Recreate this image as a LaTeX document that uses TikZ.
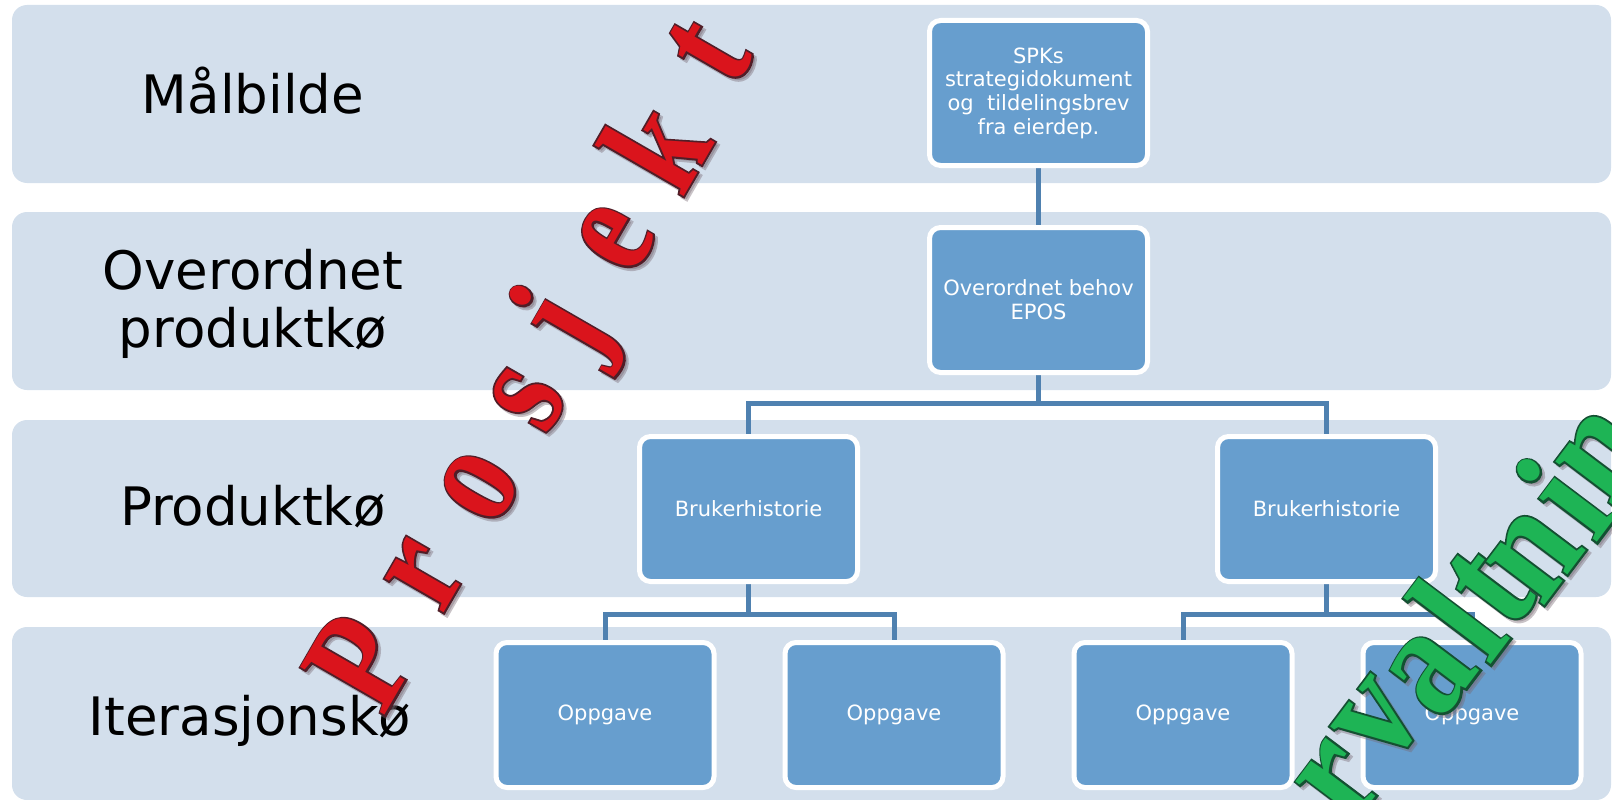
\documentclass[tikz,border=0pt]{standalone}
\usepackage{fontspec}
\setmainfont{DejaVu Sans}
\newfontfamily\wafont{Liberation Serif}[BoldFeatures={FakeStretch=0.8}]
\newfontfamily\waedgefont{Liberation Serif}[BoldFeatures={FakeStretch=0.8,FakeBold=2.5}]
\newfontfamily\wafontwide{Liberation Serif}[BoldFeatures={FakeStretch=0.85}]
\newfontfamily\waedgefontwide{Liberation Serif}[BoldFeatures={FakeStretch=0.85,FakeBold=2.5}]
\usetikzlibrary{calc}

\definecolor{bandfill}{RGB}{211,223,236}
\definecolor{boxfill}{RGB}{103,158,206}
\definecolor{linkcol}{RGB}{79,129,176}
\definecolor{waRed}{RGB}{218,20,28}
\definecolor{waRedEdge}{RGB}{80,30,40}
\definecolor{waGreen}{RGB}{30,180,85}
\definecolor{waGreenEdge}{RGB}{20,80,50}
\definecolor{waShadow}{RGB}{120,105,115}

\pgfdeclarelayer{back}
\pgfdeclarelayer{mid}
\pgfdeclarelayer{front}
\pgfsetlayers{back,mid,main,front}

\tikzset{
  band/.style={fill=bandfill, rounded corners=15pt},
  rowlabel/.style={font=\fontsize{53}{58}\selectfont, align=center, text=black, inner sep=0pt},
  chartbox/.style={draw=white, line width=5pt, fill=boxfill, rounded corners=11pt,
    minimum width=218pt, minimum height=145pt, text=white, align=center,
    font=\fontsize{21}{23.7}\selectfont, inner sep=0pt},
  link/.style={draw=linkcol, line width=5pt},
  waglyph/.style={inner sep=0pt},
}

% one WordArt letter: name, x, y, angle, fill colour, edge colour, letter, size, family suffix
\newcommand\wordartglyph[9]{%
  \node[waglyph, text=waShadow, opacity=.4, rotate=#4] (#1-shadow) at ($(#2,#3)+(3,3)$)
    {\csname waedgefont#9\endcsname\fontsize{#8}{#8}\selectfont\bfseries #7};
  \node[waglyph, text=#6, rotate=#4] (#1-edge) at (#2,#3)
    {\csname waedgefont#9\endcsname\fontsize{#8}{#8}\selectfont\bfseries #7};
  \node[waglyph, text=#5, rotate=#4] (#1) at (#2,#3)
    {\csname wafont#9\endcsname\fontsize{#8}{#8}\selectfont\bfseries #7};
}
\newcommand\redglyph[4]{\wordartglyph{#1}{#2}{#3}{60}{waRed}{waRedEdge}{#4}{148}{}}
\newcommand\greenglyph[4]{\wordartglyph{#1}{#2}{#3}{53}{waGreen}{waGreenEdge}{#4}{158}{wide}}

\begin{document}
\begin{tikzpicture}[x=1pt,y=-1pt]
\useasboundingbox (0,0) rectangle (1612,800);

% horizontal bands
\begin{pgfonlayer}{back}
  \path[band] (12,5) rectangle (1611,183);
  \path[band] (12,212) rectangle (1611,390);
  \path[band] (12,420) rectangle (1611,597);
  \path[band] (12,627) rectangle (1611,800);
\end{pgfonlayer}

% row titles
\node[rowlabel] (lblmaal) at (253,91) {Målbilde};
\node[rowlabel] (lbloverordnet) at (253,304) {Overordnet\\produktkø};
\node[rowlabel] (lblprodukt) at (253,507) {Produktkø};
\node[rowlabel] (lbliterasjon) at (250,721) {Iterasjonskø};

% hierarchy boxes
\node[chartbox] (spk) at (1038.5,93) {SPKs\\strategidokument\\og\ \ tildelingsbrev\\fra eierdep.};
\node[chartbox] (over) at (1038.5,300) {Overordnet behov\\EPOS};
\node[chartbox] (b1) at (748.5,509) {Brukerhistorie};
\node[chartbox] (b2) at (1326.5,509) {Brukerhistorie};
\node[chartbox] (o1) at (605,715) {Oppgave};
\node[chartbox] (o2) at (894,715) {Oppgave};
\node[chartbox] (o3) at (1183,715) {Oppgave};
\node[chartbox] (o4) at (1472,715) {Oppgave};

% connectors
\begin{pgfonlayer}{mid}
  \coordinate (j1) at (1038.5,403);
  \coordinate (j2) at (748.5,614);
  \coordinate (j3) at (1326.5,614);
  \draw[link] (spk.south) -- (over.north);
  \draw[link] (over.south) -- (j1);
  \draw[link] (b1.north) |- (j1) -| (b2.north);
  \draw[link] (b1.south) -- (j2);
  \draw[link] (o1.north) |- (j2) -| (o2.north);
  \draw[link] (b2.south) -- (j3);
  \draw[link] (o3.north) |- (j3) -| (o4.north);
\end{pgfonlayer}

% diagonal WordArt words
\begin{pgfonlayer}{front}
\begin{scope}
  \clip (0,0) rectangle (1612,800);
  \redglyph{pP}{360}{662}{P}
  \redglyph{pr}{425}{575}{r}
  \redglyph{po}{480}{487}{o}
  \redglyph{ps}{528}{399}{s}
  \redglyph{pj}{568}{327}{j}
  \redglyph{pe}{616}{239}{e}
  \redglyph{pk}{654}{145}{k}
  \redglyph{pt}{709}{52}{t}

  \greenglyph{fF}{1215}{935}{F}
  \greenglyph{fo}{1272}{866}{o}
  \greenglyph{fr}{1340}{782}{r}
  \greenglyph{fv}{1380}{722}{v}
  \greenglyph{fa}{1432}{674}{a}
  \greenglyph{fl}{1457}{619}{l}
  \greenglyph{ft}{1490}{588}{t}
  \greenglyph{fn}{1535}{556}{n}
  \greenglyph{fi}{1563}{497}{i}
  \greenglyph{fm}{1604}{456}{n}
  \greenglyph{fg}{1685}{365}{g}
\end{scope}
\end{pgfonlayer}
\end{tikzpicture}
\end{document}
